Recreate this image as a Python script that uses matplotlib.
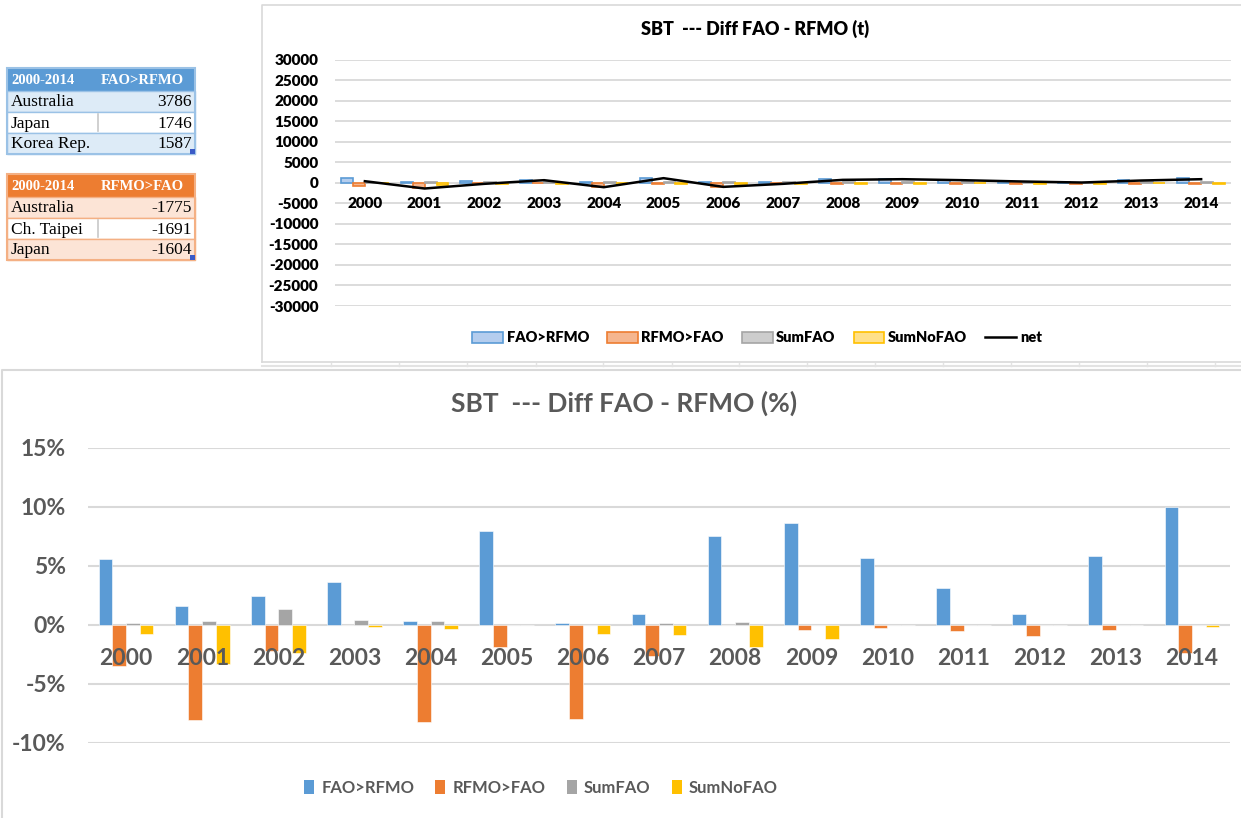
import numpy as np
import matplotlib
matplotlib.use("Agg")
import matplotlib.pyplot as plt
from matplotlib.patches import Rectangle
from matplotlib.lines import Line2D

plt.rcParams['axes.unicode_minus'] = False
plt.rcParams['font.family'] = ['Lato', 'DejaVu Sans']

years = ['2000', '2001', '2002', '2003', '2004', '2005', '2006', '2007',
         '2008', '2009', '2010', '2011', '2012', '2013', '2014']
series = ['FAO>RFMO', 'RFMO>FAO', 'SumFAO', 'SumNoFAO']

# tonnes (top chart)
fao_t = [1100, 250, 550, 600, 250, 1200, 250, 200, 1000, 900, 650, 400, 150, 650, 1200]
rfmo_t = [-700, -1200, -150, 0, -1050, -300, -900, -200, -300, -300, -300, -250, -250, -300, -300]
sumfao_t = [50, 150, 250, 100, 100, 100, 100, 100, 150, 150, 100, 50, 50, 100, 100]
sumnofao_t = [-100, -600, -200, -200, -150, -250, -300, -200, -250, -250, -150, -250, -250, -100, -250]
net_t = [400, -1380, -240, 650, -1060, 1140, -980, -240, 730, 890, 650, 330, 80, 570, 890]
t_ticks = [30000, 25000, 20000, 15000, 10000, 5000, 0, -5000, -10000,
           -15000, -20000, -25000, -30000]

# percent (bottom chart)
fao_pct = [5.54, 1.58, 2.40, 3.64, 0.34, 7.91, 0.14, 0.88, 7.49, 8.64, 5.65, 3.08, 0.88, 5.79, 9.97]
rfmo_pct = [-3.47, -8.05, -2.23, 0.0, -8.28, -1.89, -7.97, -2.66, 0.0, -0.48, -0.28, -0.56, -0.93, -0.42, -2.40]
sumfao_pct = [0.17, 0.28, 1.36, 0.42, 0.28, 0.0, 0.0, 0.14, 0.20, 0.0, 0.0, 0.0, 0.0, 0.0, 0.0]
sumnofao_pct = [-0.82, -3.31, -2.43, -0.20, -0.34, 0.0, -0.76, -0.90, -1.89, -1.21, 0.0, 0.0, 0.0, 0.0, -0.20]
pct_ticks = [15, 10, 5, 0, -5, -10]
pct_labels = ['15%', '10%', '5%', '0%', '-5%', '-10%']

# side tables
tab1_header = ['2000-2014', 'FAO>RFMO']
tab1_names = ['Australia', 'Japan', 'Korea Rep.']
tab1_vals = [3786, 1746, 1587]
tab2_header = ['2000-2014', 'RFMO>FAO']
tab2_names = ['Australia', 'Ch. Taipei', 'Japan']
tab2_vals = [-1775, -1691, -1604]

W, H = 1241, 818
solid = ['#5B9BD5', '#ED7D31', '#A5A5A5', '#FFC000']
light = ['#B4CDEE', '#F5B68F', '#CDCDCD', '#FFE08A']
grid_c = '#D9D9D9'


def box(x0, y0, x1, y1):
    return [x0 / W, 1 - y1 / H, (x1 - x0) / W, (y1 - y0) / H]


fig = plt.figure(figsize=(W / 100, H / 100), dpi=100)

# background layer in pixel coords
bg = fig.add_axes([0, 0, 1, 1], zorder=0)
bg.set_xlim(0, W)
bg.set_ylim(H, 0)
bg.axis('off')

# frames
bg.plot([262, 262, W], [362, 5, 5], color=grid_c, lw=1.2)
bg.plot([262, W], [362, 362], color=grid_c, lw=1.2)
bg.plot([262, W], [366, 366], color='#E3E3E3', lw=1.5)
for xt in [331, 399, 467, 536, 603, 672, 739, 807, 875, 943, 1011, 1079, 1147, 1215]:
    bg.plot([xt, xt], [363, 366], color='#E3E3E3', lw=1)
bg.plot([2, 2, W], [H, 370, 370], color=grid_c, lw=1.5)


def draw_table(top, header, names, vals, head_c, row_c, edge_c):
    rows = [top, top + 23, top + 44, top + 65, top + 86]
    bg.add_patch(Rectangle((7, rows[0]), 188, rows[1] - rows[0], fc=head_c, ec='none'))
    for i in range(3):
        fc = row_c if i != 1 else 'white'
        bg.add_patch(Rectangle((7, rows[i + 1]), 188, rows[i + 2] - rows[i + 1],
                               fc=fc, ec=edge_c, lw=1))
    bg.add_patch(Rectangle((7, rows[0]), 188, rows[4] - rows[0], fc='none', ec=edge_c, lw=1.5))
    bg.plot([98, 98], [rows[2] + 2, rows[3] - 2], color='#C8C8C8', lw=1.2)
    bg.text(11, (rows[0] + rows[1]) / 2 + 1, header[0], color='white', fontsize=10.5,
            fontweight='bold', family='Liberation Serif', va='center')
    bg.text(101, (rows[0] + rows[1]) / 2 + 1, header[1], color='white', fontsize=10.5,
            fontweight='bold', family='Liberation Serif', va='center')
    for i in range(3):
        yc = (rows[i + 1] + rows[i + 2]) / 2 + 1
        bg.text(11, yc, names[i], fontsize=12.5, family='Liberation Serif', va='center')
        bg.text(192, yc, str(vals[i]), fontsize=12.5, family='Liberation Serif',
                va='center', ha='right')
    bg.add_patch(Rectangle((190, rows[4] - 5), 5, 5, fc='#3A5BC7', ec='none'))


draw_table(68, tab1_header, tab1_names, tab1_vals, '#5B9BD5', '#DDEBF7', '#9BC2E6')
draw_table(174, tab2_header, tab2_names, tab2_vals, '#ED7D31', '#FCE4D6', '#F4B084')

x = np.arange(len(years))


def style_axis(ax, ticks, grid_lw):
    for t in ticks:
        ax.axhline(t, color=grid_c, lw=grid_lw, zorder=0)
    for s in ax.spines.values():
        s.set_visible(False)
    ax.spines['bottom'].set_position(('data', 0))
    ax.xaxis.set_zorder(5)
    ax.yaxis.set_zorder(5)


# ---- top chart (tonnes)
ax1 = fig.add_axes(box(335, 59.7, 1231, 306), zorder=1)
ax1.patch.set_alpha(0)
w1 = 0.2
for k, vals in enumerate([fao_t, rfmo_t, sumfao_t, sumnofao_t]):
    ax1.bar(x + (k - 1.5) * w1, vals, w1, color=light[k], edgecolor=solid[k],
            linewidth=1.2, zorder=2)
ax1.plot(x, net_t, color='black', lw=1.8, zorder=3)
ax1.set_xlim(-0.5, len(years) - 0.5)
ax1.set_ylim(-30000, 30000)
ax1.set_yticks(t_ticks)
ax1.set_yticklabels([str(v) for v in t_ticks])
ax1.set_xticks(x)
ax1.set_xticklabels(years)
style_axis(ax1, t_ticks, 1.3)
ax1.tick_params(length=0, labelsize=11)
ax1.tick_params(axis='x', pad=10)
ax1.tick_params(axis='y', pad=12)
for lab in ax1.get_xticklabels() + ax1.get_yticklabels():
    lab.set_fontweight('heavy')

bg.text(755, 29, 'SBT  --- Diff FAO - RFMO (t)', fontsize=13, fontweight='heavy',
        ha='center', va='center')

h1 = [Rectangle((0, 0), 1, 1, fc=light[k], ec=solid[k], lw=1.2) for k in range(4)]
h1.append(Line2D([0], [0], color='black', lw=1.8))
leg1 = bg.legend(h1, series + ['net'], loc='center', bbox_to_anchor=(757, 338),
                 bbox_transform=bg.transData, ncol=5, frameon=False, handlelength=2.1,
                 handleheight=0.75, handletextpad=0.25, columnspacing=1.25,
                 prop={'weight': 'heavy', 'size': 10.5})
bg.add_artist(leg1)

# ---- bottom chart (percent)
ax2 = fig.add_axes(box(88, 447.7, 1230, 742.7), zorder=1)
ax2.patch.set_alpha(0)
w2 = 0.18
for k, vals in enumerate([fao_pct, rfmo_pct, sumfao_pct, sumnofao_pct]):
    ax2.bar(x + (k - 1.5) * w2, vals, w2, color=solid[k], edgecolor='white',
            linewidth=0.4, zorder=2)
ax2.set_xlim(-0.5, len(years) - 0.5)
ax2.set_ylim(-10, 15)
ax2.set_yticks(pct_ticks)
ax2.set_yticklabels(pct_labels)
ax2.set_xticks(x)
ax2.set_xticklabels(years)
style_axis(ax2, pct_ticks, 1.5)
ax2.tick_params(length=0, labelsize=16.5, labelcolor='#595959')
ax2.tick_params(axis='x', pad=17)
ax2.tick_params(axis='y', pad=16)
for lab in ax2.get_xticklabels() + ax2.get_yticklabels():
    lab.set_fontweight('bold')

bg.text(624, 403, 'SBT  --- Diff FAO - RFMO (%)', fontsize=19, fontweight='bold',
        color='#595959', ha='center', va='center')

h2 = [Rectangle((0, 0), 1, 1, fc=solid[k], ec='none') for k in range(4)]
bg.legend(h2, series, loc='center', bbox_to_anchor=(541, 788),
          bbox_transform=bg.transData, ncol=4, frameon=False, handlelength=0.6,
          handleheight=0.9, handletextpad=0.45, columnspacing=1.25,
          prop={'weight': 'bold', 'size': 12}, labelcolor='#595959')

fig.savefig('out.png', dpi=100)
